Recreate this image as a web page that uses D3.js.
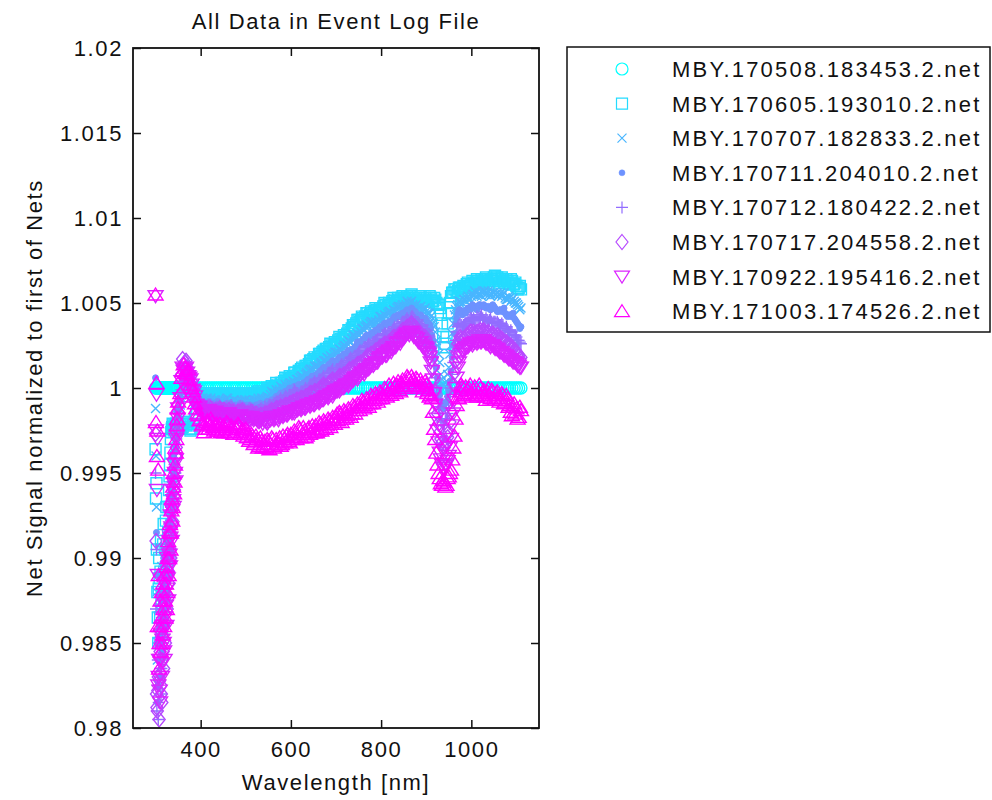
<!DOCTYPE html>
<html><head><meta charset="utf-8">
<script src="https://cdn.jsdelivr.net/npm/d3@7"></script>
<style>
body{margin:0;background:#fff;}
svg text{font-family:"Liberation Sans",Arial,Helvetica,sans-serif;fill:#111;}
</style></head><body>
<svg id="chart" width="992" height="800"></svg>
<script>
// Wavelengths [nm] of the first sampling pass
const wavelengths = [
300,302,304,306,308,310,312,314,316,318,320,322,324,326,328,330,332,334,336,338,340,342,344,346,348,350,
355,360,365,370,375,380,385,390,395,400,
405,410,415,420,425,430,435,440,445,450,
455,460,465,470,475,480,485,490,495,500,
505,510,515,520,525,530,535,540,545,550,
555,560,565,570,575,580,585,590,595,600,
605,610,615,620,625,630,635,640,645,650,
655,660,665,670,675,680,685,690,695,700,
705,710,715,720,725,730,735,740,745,750,
755,760,765,770,775,780,785,790,795,800,
805,810,815,820,825,830,835,840,845,850,
855,860,865,870,875,880,885,890,895,900,
905,910,915,920,925,930,935,940,945,950,
955,960,965,970,975,980,985,990,995,1000,
1005,1010,1015,1020,1025,1030,1035,1040,1045,1050,
1055,1060,1065,1070,1075,1080,1085,1090,1095,1100,
1105,1110];

// Wavelengths [nm] of the interleaved second sampling pass
const wavelengthsB = [
301,303,305,307,309,311,313,315,317,319,321,323,325,327,329,331,333,335,337,339,341,343,345,347,349,
357.5,362.5,367.5,372.5,377.5,382.5,387.5,392.5,397.5,402.5,
407.5,412.5,417.5,422.5,427.5,432.5,437.5,442.5,447.5,452.5,
457.5,462.5,467.5,472.5,477.5,482.5,487.5,492.5,497.5,502.5,
507.5,512.5,517.5,522.5,527.5,532.5,537.5,542.5,547.5,552.5,
557.5,562.5,567.5,572.5,577.5,582.5,587.5,592.5,597.5,602.5,
607.5,612.5,617.5,622.5,627.5,632.5,637.5,642.5,647.5,652.5,
657.5,662.5,667.5,672.5,677.5,682.5,687.5,692.5,697.5,702.5,
707.5,712.5,717.5,722.5,727.5,732.5,737.5,742.5,747.5,752.5,
757.5,762.5,767.5,772.5,777.5,782.5,787.5,792.5,797.5,802.5,
807.5,812.5,817.5,822.5,827.5,832.5,837.5,842.5,847.5,852.5,
857.5,862.5,867.5,872.5,877.5,882.5,887.5,892.5,897.5,902.5,
907.5,912.5,917.5,922.5,927.5,932.5,937.5,942.5,947.5,952.5,
957.5,962.5,967.5,972.5,977.5,982.5,987.5,992.5,997.5,1002.5,
1007.5,1012.5,1017.5,1022.5,1027.5,1032.5,1037.5,1042.5,1047.5,1052.5,
1057.5,1062.5,1067.5,1072.5,1077.5,1082.5,1087.5,1092.5,1097.5,1102.5,
1107.5];

const s1 = [
1,1,1,1,1,1,1,1,1,1,1,1,1,1,1,1,1,1,1,1,1,1,1,1,1,1,
1,1,1,1,1,1,1,1,1,1, 1,1,1,1,1,1,1,1,1,1, 1,1,1,1,1,1,1,1,1,1,
1,1,1,1,1,1,1,1,1,1, 1,1,1,1,1,1,1,1,1,1, 1,1,1,1,1,1,1,1,1,1,
1,1,1,1,1,1,1,1,1,1, 1,1,1,1,1,1,1,1,1,1, 1,1,1,1,1,1,1,1,1,1,
1,1,1,1,1,1,1,1,1,1, 1,1,1,1,1,1,1,1,1,1, 1,1,1,1,1,1,1,1,1,1,
1,1,1,1,1,1,1,1,1,1, 1,1,1,1,1,1,1,1,1,1, 1,1,1,1,1,1,1,1,1,1,
1,1];

const s2 = [
0.9964,0.9944,0.988,0.985,0.99,0.9865,0.991,0.9855,0.989,0.992,0.9875,0.9905,0.993,0.9895,0.9915,0.994,0.9955,0.997,0.9976,0.9979,0.9975,0.9978,0.9976,0.9979,0.9977,0.9978,
0.9978,0.9977,0.998,0.9979,0.9976,0.9976,0.9978,0.9985,0.9991,0.9994,
0.9996,0.9996,0.9994,0.9995,0.9997,0.9996,0.9994,0.9995,0.9997,0.9996,
0.9995,0.9994,0.9997,0.9996,0.9995,0.9994,0.9996,0.9997,0.9995,0.9995,
0.9996,0.9997,0.9995,0.9996,0.9997,0.9998,0.9996,0.9997,0.9998,0.9999,
0.9999,1,1.0001,1.0002,1.0001,1.0003,1.0004,1.0005,1.0005,1.0006,
1.0007,1.0009,1.0008,1.001,1.0012,1.0011,1.0013,1.0014,1.0016,1.0017,
1.0017,1.0018,1.002,1.0021,1.0021,1.0023,1.0024,1.0025,1.0025,1.0026,
1.0028,1.0029,1.0029,1.003,1.0032,1.0034,1.0035,1.0037,1.0038,1.004,
1.004,1.0041,1.0042,1.0044,1.0043,1.0044,1.0045,1.0046,1.0045,1.0046,
1.0048,1.0049,1.0048,1.0049,1.0051,1.0052,1.0051,1.0052,1.0053,1.0053,
1.0052,1.0053,1.0054,1.0053,1.0052,1.0051,1.0053,1.0052,1.0051,1.0052,
1.0052,1.0053,1.0051,1.0052,1.0049,1.0047,1.0038,1.0024,1.003,1.0044,
1.0054,1.0056,1.0058,1.0057,1.0059,1.0058,1.0059,1.0061,1.006,1.0061,
1.0062,1.0062,1.0063,1.0062,1.0063,1.0064,1.0063,1.0062,1.0064,1.0065,
1.0063,1.0064,1.0063,1.0064,1.0062,1.0063,1.0062,1.0063,1.0061,1.006,
1.0059,1.0058];
const s2b = [
0.9935,0.9905,0.9865,0.9882,0.9888,0.9892,0.9875,0.9878,0.9908,0.9892,0.9888,0.9922,0.9908,0.9903,0.993,0.9948,0.9962,0.9974,0.9977,0.9978,0.9976,0.9977,0.9978,0.9977,0.9979,
0.9976,0.998,0.9978,0.9979,0.9975,0.9979,0.9981,0.9988,0.9992,0.9995,
0.9994,0.9997,0.9995,0.9997,0.9995,0.9995,0.9996,0.9997,0.9995,0.9997,
0.9996,0.9995,0.9995,0.9997,0.9994,0.9996,0.9995,0.9997,0.9994,0.9996,
0.9995,0.9996,0.9997,0.9995,0.9998,0.9997,0.9998,0.9996,1,0.9998,
1.0001,0.9999,1.0003,1,1.0003,1.0002,1.0006,1.0004,1.0007,1.0005,
1.0009,1.0007,1.001,1.0011,1.001,1.0013,1.0012,1.0016,1.0015,1.0018,
1.0016,1.002,1.0019,1.0022,1.0023,1.0022,1.0026,1.0024,1.0027,1.0026,
1.003,1.0028,1.0031,1.003,1.0034,1.0033,1.0037,1.0036,1.004,1.0039,
1.0042,1.004,1.0044,1.0042,1.0045,1.0043,1.0047,1.0044,1.0047,1.0046,
1.005,1.0047,1.005,1.0049,1.0053,1.005,1.0053,1.0051,1.0054,1.0052,
1.0054,1.0052,1.0055,1.0051,1.0053,1.005,1.0054,1.0051,1.0053,1.0051,
1.0054,1.0051,1.0053,1.005,1.0049,1.0043,1.003,1.0026,1.0038,1.005,
1.0056,1.0058,1.0056,1.0059,1.0057,1.006,1.0059,1.0062,1.006,1.0063,
1.0061,1.0064,1.0061,1.0064,1.0062,1.0065,1.0061,1.0064,1.0063,1.0066,
1.0065,1.0062,1.0065,1.0062,1.0064,1.0061,1.0064,1.0061,1.0062,1.0058,
1.006];

const s3 = [
0.9988,0.993,0.984,0.987,0.9825,0.988,0.985,0.9895,0.986,0.9885,0.9905,0.987,0.99,0.9915,0.989,0.993,0.991,0.994,0.9925,0.9955,0.994,0.9965,0.996,0.9975,0.998,0.9985,
0.999,0.9997,1,1.0002,0.9999,0.9996,0.9994,0.9992,0.9993,0.9993,
0.9992,0.9992,0.9994,0.9993,0.9992,0.9993,0.9991,0.9993,0.9992,0.9992,
0.9993,0.9994,0.9992,0.9991,0.9993,0.9992,0.999,0.9991,0.9992,0.9993,
0.9992,0.9992,0.9991,0.9993,0.9992,0.9993,0.9994,0.9992,0.9994,0.9994,
0.9996,0.9997,0.9997,0.9998,0.9999,1,1,1.0001,1.0002,1.0003,
1.0004,1.0003,1.0005,1.0006,1.0007,1.0006,1.0009,1.001,1.0011,1.0011,
1.0012,1.0013,1.0014,1.0014,1.0016,1.0018,1.0017,1.0018,1.002,1.0021,
1.0021,1.0022,1.0024,1.0025,1.0026,1.0027,1.0029,1.0031,1.003,1.0031,
1.0033,1.0035,1.0036,1.0036,1.0038,1.0039,1.0038,1.0038,1.004,1.0042,
1.0041,1.0042,1.0044,1.0045,1.0044,1.0045,1.0047,1.0048,1.0048,1.0047,
1.0049,1.005,1.005,1.0049,1.0048,1.0047,1.0047,1.0046,1.0046,1.0045,
1.0044,1.0042,1.0038,1.0033,1.0025,1.0015,1.0005,1,1.0004,1.0012,
1.0025,1.0038,1.0046,1.0049,1.0051,1.005,1.0052,1.0053,1.0052,1.0054,
1.0055,1.0056,1.0055,1.0055,1.0056,1.0057,1.0056,1.0055,1.0055,1.0056,
1.0055,1.0054,1.0056,1.0055,1.0053,1.0052,1.0053,1.0052,1.0051,1.005,
1.0048,1.0047];
const s3b = [
0.996,0.988,0.9855,0.985,0.986,0.9865,0.9875,0.9875,0.9875,0.99,0.9885,0.9882,0.991,0.99,0.9912,0.992,0.9928,0.9932,0.9942,0.9948,0.9955,0.996,0.997,0.9976,0.9984,
0.9996,0.9999,1.0003,1,0.9997,0.9995,0.9992,0.9994,0.9991,0.9994,
0.9991,0.9994,0.9992,0.9994,0.9991,0.9993,0.9992,0.9991,0.9993,0.9992,
0.9994,0.9992,0.9991,0.9993,0.9991,0.9992,0.999,0.9992,0.9993,0.9991,
0.9993,0.9991,0.9993,0.9991,0.9994,0.9992,0.9994,0.9993,0.9995,0.9994,
0.9998,0.9996,0.9999,0.9997,1.0001,0.9999,1.0002,1,1.0003,1.0002,
1.0002,1.0005,1.0004,1.0007,1.0005,1.0008,1.0008,1.0011,1.001,1.0013,
1.0013,1.0012,1.0015,1.0016,1.0016,1.0017,1.0019,1.0018,1.0021,1.002,
1.0023,1.0022,1.0025,1.0024,1.0028,1.0027,1.0031,1.0029,1.0032,1.0031,
1.0035,1.0034,1.0037,1.0036,1.0039,1.0037,1.0039,1.0037,1.0042,1.004,
1.0043,1.0042,1.0045,1.0043,1.0046,1.0045,1.0048,1.0046,1.0049,1.0047,
1.0051,1.0049,1.0051,1.0048,1.0049,1.0046,1.0048,1.0045,1.0047,1.0044,
1.0044,1.004,1.0036,1.0028,1.002,1.0008,1.0002,1.0001,1.0008,1.002,
1.0032,1.0043,1.0048,1.0051,1.0049,1.0052,1.0051,1.0054,1.0052,1.0055,
1.0057,1.0054,1.0056,1.0054,1.0057,1.0055,1.0057,1.0054,1.0056,1.0055,
1.0056,1.0055,1.0054,1.0056,1.0052,1.0054,1.0051,1.0053,1.005,1.0049,
1.0046];

const s4 = [
1.0006,0.9915,0.9815,0.984,0.986,0.983,0.9875,0.9845,0.987,0.99,0.986,0.989,0.991,0.988,0.992,0.9905,0.9935,0.992,0.9945,0.993,0.996,0.995,0.997,0.9965,0.998,0.9988,
0.9995,1.0002,1.0003,1.0004,1.0001,0.9997,0.9994,0.9992,0.9991,0.9991,
0.999,0.999,0.9991,0.9992,0.999,0.999,0.9991,0.9991,0.999,0.9989,
0.999,0.9991,0.9989,0.999,0.9989,0.9989,0.999,0.9991,0.999,0.9989,
0.9989,0.999,0.9989,0.9988,0.999,0.999,0.9989,0.9989,0.9991,0.9992,
0.9992,0.9993,0.9994,0.9995,0.9996,0.9996,0.9997,0.9998,0.9999,0.9999,
1,1.0001,1.0001,1,1.0002,1.0003,1.0004,1.0005,1.0006,1.0007,
1.0007,1.0008,1.001,1.0011,1.0012,1.0012,1.0014,1.0015,1.0015,1.0015,
1.0017,1.0018,1.0019,1.0019,1.0021,1.0022,1.0022,1.0023,1.0025,1.0027,
1.0027,1.0028,1.003,1.0031,1.0031,1.0032,1.0033,1.0034,1.0035,1.0035,
1.0037,1.0038,1.0038,1.0038,1.004,1.0042,1.0042,1.0042,1.0043,1.0044,
1.0045,1.0045,1.0046,1.0046,1.0045,1.0043,1.0042,1.0042,1.0041,1.004,
1.0038,1.0035,1.0028,1.0018,1.0006,0.9996,0.999,0.9988,0.9992,0.9998,
1.001,1.0025,1.0038,1.0044,1.0046,1.0043,1.0045,1.0046,1.0047,1.0048,
1.0047,1.0047,1.0048,1.0049,1.0048,1.0048,1.0047,1.0047,1.0048,1.0048,
1.0046,1.0045,1.0046,1.0046,1.0044,1.0042,1.0043,1.0043,1.0041,1.0039,
1.0037,1.0036];
const s4b = [
0.989,0.985,0.9825,0.985,0.984,0.9855,0.9865,0.9852,0.989,0.9875,0.988,0.9905,0.989,0.9902,0.991,0.9922,0.9925,0.9938,0.9934,0.9948,0.9952,0.9962,0.9964,0.9976,0.9986,
0.9999,1.0004,1.0002,1.0005,0.9999,0.9996,0.9992,0.9993,0.999,0.9992,
0.9989,0.9991,0.9992,0.999,0.9991,0.9989,0.9992,0.999,0.9989,0.999,
0.9991,0.9989,0.999,0.9988,0.999,0.9989,0.9991,0.999,0.9989,0.999,
0.999,0.9988,0.9989,0.999,0.9989,0.9991,0.9988,0.999,0.9992,0.9991,
0.9993,0.9992,0.9995,0.9994,0.9997,0.9995,0.9998,0.9997,1,0.9998,
1.0001,1,1.0002,1.0001,1.0003,1.0002,1.0005,1.0004,1.0007,1.0006,
1.0008,1.0009,1.001,1.0012,1.0011,1.0013,1.0014,1.0016,1.0014,1.0016,
1.0018,1.0017,1.002,1.0019,1.0022,1.0021,1.0023,1.0024,1.0027,1.0026,
1.0028,1.0029,1.0031,1.003,1.0032,1.0031,1.0034,1.0033,1.0036,1.0035,
1.0038,1.0037,1.0039,1.0039,1.0041,1.0041,1.0043,1.0042,1.0044,1.0043,
1.0046,1.0044,1.0047,1.0045,1.0044,1.0042,1.0043,1.0041,1.0041,1.0038,
1.0037,1.0031,1.0024,1.0012,1,0.9992,0.9988,0.9991,0.9995,1.0004,
1.0018,1.0032,1.0041,1.0046,1.0044,1.0045,1.0044,1.0047,1.0046,1.0049,
1.0048,1.0046,1.0049,1.0048,1.0049,1.0047,1.0048,1.0046,1.0049,1.0047,
1.0045,1.0046,1.0045,1.0047,1.0043,1.0043,1.0042,1.0044,1.004,1.0038,
1.0035];

const s5 = [
0.995,0.9905,0.9825,0.9805,0.985,0.9835,0.982,0.9865,0.984,0.988,0.9855,0.9895,0.9875,0.9905,0.989,0.992,0.99,0.993,0.9915,0.9945,0.9935,0.9955,0.995,0.997,0.9975,0.9985,
0.9992,1.0004,1.0005,1.0006,1.0003,1,0.9996,0.9991,0.999,0.9989,
0.9988,0.9988,0.9989,0.999,0.9988,0.9988,0.9989,0.9988,0.9987,0.9987,
0.9988,0.9988,0.9989,0.9989,0.9988,0.9987,0.9988,0.9988,0.9987,0.9987,
0.9987,0.9988,0.9987,0.9986,0.9986,0.9987,0.9988,0.9987,0.9988,0.9989,
0.999,0.999,0.9991,0.9992,0.9993,0.9993,0.9994,0.9995,0.9995,0.9995,
0.9997,0.9998,0.9997,0.9996,0.9998,0.9999,0.9999,1,1.0002,1.0003,
1.0003,1.0003,1.0005,1.0006,1.0006,1.0007,1.0009,1.001,1.0009,1.0009,
1.0011,1.0013,1.0013,1.0013,1.0015,1.0017,1.0017,1.0017,1.0019,1.0021,
1.0022,1.0022,1.0024,1.0025,1.0025,1.0026,1.0027,1.0028,1.0028,1.0029,
1.0031,1.0032,1.0032,1.0032,1.0034,1.0036,1.0036,1.0036,1.0038,1.0039,
1.004,1.004,1.0041,1.0042,1.004,1.0038,1.0037,1.0037,1.0035,1.0034,
1.0031,1.0027,1.0018,1.0006,0.9994,0.9985,0.998,0.9978,0.9982,0.9988,
1,1.0015,1.0028,1.0036,1.0038,1.0036,1.0037,1.0038,1.004,1.0041,
1.0041,1.004,1.0041,1.0042,1.0041,1.004,1.004,1.004,1.0039,1.0039,
1.0038,1.0038,1.0037,1.0037,1.0035,1.0034,1.0033,1.0033,1.0031,1.003,
1.0028,1.0026];
const s5b = [
0.987,0.981,0.984,0.9815,0.983,0.985,0.9835,0.986,0.985,0.9865,0.988,0.987,0.9895,0.9882,0.9908,0.9905,0.9918,0.9922,0.9932,0.9938,0.9948,0.995,0.9962,0.9972,0.9982,
0.9999,1.0006,1.0004,1.0007,1.0001,0.9997,0.9995,0.999,0.9991,0.9988,
0.9987,0.9989,0.999,0.9988,0.9989,0.9987,0.9989,0.9987,0.9988,0.9986,
0.9989,0.9987,0.999,0.9988,0.9987,0.9988,0.9989,0.9987,0.9988,0.9986,
0.9988,0.9986,0.9987,0.9985,0.9987,0.9988,0.9987,0.9989,0.9988,0.999,
0.9989,0.9991,0.9992,0.9992,0.9994,0.9993,0.9995,0.9994,0.9996,0.9995,
0.9999,0.9997,0.9996,0.9998,0.9998,1,0.9999,1.0002,1.0002,1.0004,
1.0002,1.0005,1.0005,1.0007,1.0006,1.0009,1.0009,1.0011,1.0008,1.0011,
1.0012,1.0014,1.0012,1.0015,1.0016,1.0018,1.0016,1.0019,1.002,1.0022,
1.0021,1.0024,1.0024,1.0026,1.0025,1.0027,1.0028,1.0029,1.0027,1.0031,
1.0032,1.0031,1.0033,1.0033,1.0035,1.0035,1.0037,1.0036,1.0039,1.0039,
1.0041,1.0039,1.0042,1.0041,1.0039,1.0038,1.0036,1.0037,1.0034,1.0033,
1.003,1.0022,1.0013,1,0.9989,0.9982,0.9978,0.9981,0.9985,0.9995,
1.0008,1.0022,1.0033,1.0037,1.0037,1.0037,1.0038,1.0039,1.0041,1.004,
1.004,1.0042,1.0041,1.0043,1.004,1.0041,1.0039,1.0041,1.0038,1.0039,
1.0039,1.0037,1.0038,1.0035,1.0036,1.0033,1.0034,1.0031,1.0031,1.0028,
1.0027];

const s6 = [
0.9973,0.982,0.981,0.983,0.9805,0.9845,0.9825,0.9815,0.986,0.9835,0.988,0.985,0.989,0.987,0.9905,0.9885,0.9915,0.99,0.993,0.992,0.9945,0.994,0.996,0.9965,0.998,0.999,
0.9996,1.0017,1.0015,1.0012,1.0008,1.0004,0.9999,0.9993,0.9989,0.9987,
0.9988,0.9988,0.9987,0.9986,0.9987,0.9986,0.9986,0.9987,0.9987,0.9987,
0.9986,0.9985,0.9986,0.9986,0.9985,0.9985,0.9986,0.9986,0.9985,0.9984,
0.9985,0.9985,0.9984,0.9984,0.9983,0.9983,0.9984,0.9984,0.9985,0.9985,
0.9986,0.9986,0.9987,0.9988,0.9988,0.9988,0.9989,0.999,0.999,0.9991,
0.9992,0.9992,0.9993,0.9993,0.9994,0.9994,0.9995,0.9996,0.9997,0.9997,
0.9998,0.9998,1,1.0001,1.0001,1.0001,1.0003,1.0004,1.0004,1.0004,
1.0006,1.0007,1.0007,1.0007,1.0009,1.0011,1.0011,1.0011,1.0013,1.0014,
1.0015,1.0015,1.0017,1.0019,1.0019,1.002,1.0021,1.0022,1.0023,1.0024,
1.0025,1.0026,1.0026,1.0027,1.0029,1.003,1.003,1.0031,1.0033,1.0034,
1.0035,1.0036,1.0037,1.0037,1.0036,1.0034,1.0032,1.0031,1.003,1.0029,
1.0026,1.0021,1.0012,0.9998,0.9985,0.9974,0.9968,0.9965,0.9968,0.9974,
0.9986,1.0002,1.0016,1.0026,1.003,1.0028,1.0029,1.0031,1.0032,1.0033,
1.0033,1.0032,1.0033,1.0034,1.0033,1.0033,1.0032,1.0032,1.0031,1.0031,
1.003,1.003,1.0029,1.0028,1.0027,1.0026,1.0025,1.0024,1.0022,1.0021,
1.0019,1.0018];
const s6b = [
0.991,0.9812,0.9822,0.9818,0.9828,0.9832,0.982,0.984,0.9845,0.986,0.9862,0.9872,0.9878,0.989,0.9892,0.9902,0.9905,0.9918,0.9922,0.9934,0.994,0.9952,0.996,0.9974,0.9986,
1.0008,1.0014,1.0016,1.001,1.0007,1.0001,0.9995,0.9992,0.9988,0.9989,
0.9989,0.9987,0.9986,0.9988,0.9985,0.9987,0.9986,0.9988,0.9986,0.9987,
0.9985,0.9987,0.9985,0.9986,0.9984,0.9986,0.9985,0.9987,0.9984,0.9985,
0.9984,0.9986,0.9983,0.9985,0.9982,0.9984,0.9983,0.9985,0.9984,0.9986,
0.9987,0.9985,0.9988,0.9987,0.9989,0.9988,0.999,0.9989,0.9991,0.9991,
0.9991,0.9993,0.9992,0.9994,0.9993,0.9995,0.9995,0.9997,0.9996,0.9998,
0.9997,0.9999,1,1.0002,1,1.0002,1.0003,1.0005,1.0003,1.0005,
1.0007,1.0006,1.0008,1.0008,1.001,1.001,1.0012,1.0011,1.0014,1.0014,
1.0014,1.0016,1.0018,1.0018,1.002,1.002,1.0022,1.0021,1.0024,1.0024,
1.0026,1.0025,1.0027,1.0027,1.003,1.0029,1.0031,1.0031,1.0034,1.0033,
1.0036,1.0035,1.0038,1.0036,1.0035,1.0033,1.0032,1.003,1.003,1.0027,
1.0024,1.0017,1.0005,0.9991,0.9979,0.997,0.9966,0.9967,0.9971,0.998,
0.9994,1.0009,1.0021,1.0028,1.0029,1.0029,1.003,1.0031,1.0033,1.0032,
1.0032,1.0033,1.0033,1.0033,1.0034,1.0032,1.0033,1.0031,1.0032,1.003,
1.0031,1.0029,1.0029,1.0027,1.0027,1.0025,1.0025,1.0023,1.0022,1.002,
1.0017];

const s7 = [
1.0054,0.9996,0.997,0.9825,0.984,0.9815,0.9855,0.983,0.9875,0.985,0.984,0.9885,0.986,0.99,0.9875,0.991,0.9895,0.9925,0.991,0.994,0.993,0.9955,0.9945,0.997,0.9975,0.9988,
0.9994,1.0012,1.0011,1.0009,1.0006,1.0002,0.9998,0.999,0.9988,0.9987,
0.9986,0.9985,0.9986,0.9986,0.9985,0.9984,0.9985,0.9984,0.9983,0.9983,
0.9984,0.9985,0.9984,0.9983,0.9983,0.9984,0.9983,0.9982,0.9982,0.9983,
0.9982,0.9981,0.9982,0.9982,0.9981,0.998,0.9981,0.9981,0.998,0.998,
0.9981,0.9982,0.9982,0.9982,0.9983,0.9984,0.9984,0.9984,0.9985,0.9986,
0.9986,0.9986,0.9987,0.9988,0.9988,0.9988,0.9989,0.999,0.999,0.999,
0.9991,0.9992,0.9992,0.9993,0.9994,0.9995,0.9995,0.9996,0.9997,0.9998,
0.9999,0.9999,1,1.0001,1.0002,1.0002,1.0004,1.0005,1.0006,1.0006,
1.0008,1.0009,1.001,1.0011,1.0012,1.0014,1.0014,1.0015,1.0017,1.0018,
1.0019,1.0019,1.0021,1.0022,1.0023,1.0024,1.0026,1.0027,1.0028,1.0029,
1.0031,1.0032,1.0033,1.0032,1.003,1.0029,1.0027,1.0025,1.0024,1.0023,
1.002,1.0015,1.0005,0.999,0.9975,0.9962,0.9955,0.9952,0.9955,0.996,
0.997,0.9985,1,1.0012,1.0018,1.0022,1.0023,1.0024,1.0025,1.0026,
1.0026,1.0027,1.0027,1.0027,1.0028,1.0027,1.0026,1.0025,1.0025,1.0024,
1.0023,1.0022,1.0021,1.002,1.0019,1.0018,1.0017,1.0016,1.0015,1.0014,
1.0013,1.0012];
const s7b = [
0.9975,0.994,0.989,0.983,0.9822,0.984,0.9838,0.9852,0.986,0.9845,0.9865,0.9872,0.9882,0.9888,0.9895,0.9902,0.9912,0.9918,0.9928,0.9934,0.9944,0.995,0.9958,0.9972,0.9982,
1.0004,1.001,1.0012,1.0007,1.0005,0.9999,0.9995,0.9988,0.9989,0.9985,
0.9987,0.9985,0.9987,0.9985,0.9984,0.9986,0.9983,0.9985,0.9982,0.9984,
0.9983,0.9985,0.9982,0.9984,0.9983,0.9982,0.9984,0.9981,0.9983,0.9982,
0.9981,0.9983,0.9981,0.9982,0.998,0.9982,0.9979,0.9981,0.9979,0.9981,
0.9983,0.9981,0.9983,0.9981,0.9984,0.9983,0.9985,0.9984,0.9986,0.9985,
0.9985,0.9987,0.9988,0.9987,0.9989,0.9988,0.999,0.9989,0.9991,0.999,
0.9992,0.9991,0.9993,0.9993,0.9995,0.9994,0.9996,0.9995,0.9998,0.9998,
0.9998,1,1,1.0002,1.0001,1.0003,1.0004,1.0006,1.0005,1.0007,
1.0009,1.0008,1.0011,1.0011,1.0013,1.0013,1.0015,1.0015,1.0018,1.0018,
1.002,1.0019,1.0022,1.0021,1.0024,1.0024,1.0027,1.0026,1.0029,1.003,
1.0032,1.0031,1.0033,1.003,1.0029,1.0027,1.0027,1.0024,1.0024,1.0021,
1.0018,1.001,0.9997,0.9982,0.9968,0.9958,0.9953,0.9954,0.9957,0.9965,
0.9978,0.9993,1.0006,1.0015,1.002,1.0022,1.0024,1.0024,1.0026,1.0025,
1.0027,1.0026,1.0028,1.0027,1.0028,1.0026,1.0026,1.0024,1.0025,1.0023,
1.0023,1.0021,1.0021,1.0019,1.0019,1.0017,1.0017,1.0015,1.0015,1.0013,
1.0012];

const s8 = [
1.0055,1.0003,0.9975,0.9952,0.9835,0.986,0.9845,0.988,0.9855,0.987,0.989,0.9865,0.9895,0.988,0.991,0.99,0.992,0.9915,0.9935,0.993,0.995,0.9945,0.9965,0.997,0.9982,0.9992,
0.9997,1.001,1.0012,1.0008,1.0005,1,0.9995,0.9988,0.9984,0.9982,
0.9979,0.9976,0.9981,0.9978,0.998,0.9975,0.9979,0.9977,0.9974,0.9978,
0.9976,0.9979,0.9974,0.9977,0.9973,0.9976,0.9978,0.9974,0.9972,0.9976,
0.9973,0.997,0.9972,0.9968,0.997,0.9966,0.9969,0.9967,0.9965,0.9969,
0.9967,0.997,0.9966,0.9968,0.9971,0.9967,0.997,0.9972,0.9969,0.9973,
0.9971,0.9974,0.9972,0.9976,0.9973,0.9975,0.9972,0.9977,0.9974,0.9976,
0.9978,0.9975,0.9979,0.9976,0.998,0.9978,0.9981,0.9979,0.9982,0.9983,
0.9981,0.9985,0.9982,0.9986,0.9984,0.9987,0.9985,0.9989,0.9987,0.999,
0.9989,0.9992,0.999,0.9993,0.9991,0.9995,0.9993,0.9996,0.9994,0.9997,
0.9996,0.9999,0.9997,1,0.9998,1.0001,1.0002,0.9999,1.0003,1.0001,
1.0004,1.0006,1.0003,1.0005,1.0002,1.0005,1.0001,1.0003,1,1.0002,
0.9999,0.9996,0.9986,0.997,0.9955,0.9947,0.9943,0.9945,0.9943,0.9948,
0.9952,0.9965,0.9982,0.9995,0.9998,1.0001,0.9997,0.9999,1,0.9997,
0.9999,0.9996,0.9998,1,0.9997,0.9995,0.9998,0.9996,0.9999,0.9994,
0.9997,0.9995,0.9993,0.9996,0.9992,0.9994,0.999,0.9984,0.9991,0.9988,
0.9983,0.9987];
const s8b = [
0.998,0.996,0.986,0.989,0.985,0.9875,0.9865,0.985,0.9885,0.986,0.9875,0.9885,0.987,0.99,0.989,0.9915,0.9905,0.9928,0.9922,0.9942,0.9938,0.9955,0.9962,0.9978,0.9988,
1.0006,1.0014,1.0009,1.0011,1.0002,0.9998,0.9991,0.9985,0.9981,0.9978,
0.9974,0.998,0.9976,0.9982,0.9977,0.9978,0.9975,0.9979,0.9977,0.9974,
0.998,0.9975,0.9978,0.9973,0.9977,0.9979,0.9973,0.9976,0.9975,0.9971,
0.9969,0.9973,0.9967,0.9972,0.9965,0.9971,0.9965,0.9969,0.997,0.9964,
0.9971,0.9965,0.997,0.9967,0.9966,0.9972,0.9968,0.9973,0.9968,0.997,
0.9975,0.997,0.9977,0.9971,0.9977,0.9971,0.9976,0.9973,0.9978,0.9974,
0.9974,0.998,0.9975,0.9981,0.9976,0.9982,0.9977,0.9983,0.9979,0.9985,
0.9986,0.998,0.9987,0.9982,0.9988,0.9983,0.999,0.9985,0.9991,0.9987,
0.9993,0.9988,0.9994,0.9989,0.9996,0.9991,0.9997,0.9992,0.9998,0.9994,
1,0.9995,1.0002,0.9996,1.0003,0.9997,1.0004,0.9998,1.0005,1,
1.0007,1.0002,1.0007,1.0001,1.0006,1,1.0005,0.9998,1.0004,0.9997,
0.9995,0.9994,0.9976,0.9962,0.995,0.9944,0.9946,0.9942,0.9947,0.995,
0.9958,0.9972,0.999,0.9994,1.0002,0.9996,1.0001,0.9996,1.0002,0.9995,
1.0001,0.9995,1.0002,0.9996,0.9999,0.9993,1,0.9994,0.9998,0.9993,
0.9998,0.9992,0.9997,0.9991,0.9996,0.9989,0.9986,0.9989,0.9985,0.9982,
0.9989];

const seriesNames = [
"MBY.170508.183453.2.net","MBY.170605.193010.2.net","MBY.170707.182833.2.net","MBY.170711.204010.2.net",
"MBY.170712.180422.2.net","MBY.170717.204558.2.net","MBY.170922.195416.2.net","MBY.171003.174526.2.net"];
const seriesValues = [s1,s2,s3,s4,s5,s6,s7,s8];
const seriesValuesB = [null,s2b,s3b,s4b,s5b,s6b,s7b,s8b];
const seriesColors = ["#00FFFF","#24DBFF","#49B6FF","#6D92FF","#926DFF","#B649FF","#DB24FF","#FF00FF"];
const seriesMarkers = ["circle","square","x","dot","plus","diamond","triangleDown","triangleUp"];

const xTicks = [400,600,800,1000];
const xTickLabels = ["400","600","800","1000"];
const yTicks = [0.98,0.985,0.99,0.995,1,1.005,1.01,1.015,1.02];
const yTickLabels = ["0.98","0.985","0.99","0.995","1","1.005","1.01","1.015","1.02"];
const titleText = "All Data in Event Log File";
const xLabelText = "Wavelength [nm]";
const yLabelText = "Net Signal normalized to first of Nets";

// ---- layout ----
const L = 133, R = 539, T = 48, B = 728;
const svg = d3.select("#chart");
const x = d3.scaleLinear().domain([250,1150]).range([L,R]);
const y = d3.scaleLinear().domain([0.98,1.02]).range([B,T]);

function markerPath(type){
  switch(type){
    case "circle": return "M6,0A6,6 0 1,1 -6,0A6,6 0 1,1 6,0Z";
    case "square": return "M-5.5,-5.5H5.5V5.5H-5.5Z";
    case "x": return "M-4.5,-4.5L4.5,4.5M-4.5,4.5L4.5,-4.5";
    case "dot": return "M3,0A3,3 0 1,1 -3,0A3,3 0 1,1 3,0Z";
    case "plus": return "M-6,0H6M0,-6V6";
    case "diamond": return "M0,-7.5L6,0L0,7.5L-6,0Z";
    case "triangleDown": return "M-7.5,-5.5H7.5L0,6.5Z";
    case "triangleUp": return "M0,-6.5L7.5,5.5H-7.5Z";
  }
}

const fontFam = '"Liberation Sans",Arial,Helvetica,sans-serif';

// data markers
const plot = svg.append("g");
seriesValues.forEach((vals,i)=>{
  let pts = wavelengths.map((w,j)=>({w, v: vals[j]}));
  const vb = seriesValuesB[i];
  if (vb) pts = pts.concat(wavelengthsB.map((w,j)=>({w, v: vb[j]})));
  pts = pts.filter(d=>d.v!==undefined).sort((a,b)=>a.w-b.w);
  const g = plot.append("g");
  g.selectAll("path").data(pts).join("path")
    .attr("d", markerPath(seriesMarkers[i]))
    .attr("transform", d=>`translate(${x(d.w).toFixed(2)},${y(d.v).toFixed(2)})`)
    .attr("fill", seriesMarkers[i]==="dot" ? seriesColors[i] : "none")
    .attr("stroke", seriesColors[i])
    .attr("stroke-width", seriesMarkers[i]==="dot" ? 1 : 1.4);
});

// axes
function styleAxis(g){
  g.select(".domain").remove();
  g.selectAll(".tick line").attr("stroke","#111").attr("stroke-width",1.5);
  g.selectAll("text").attr("font-family",fontFam).attr("font-size",22)
    .attr("letter-spacing","1.6px").attr("fill","#111");
}
svg.append("g").attr("transform",`translate(0,${B})`)
  .call(d3.axisBottom(x).tickValues(xTicks).tickFormat((d,i)=>xTickLabels[i]).tickSizeInner(-8).tickSizeOuter(0).tickPadding(13))
  .call(styleAxis);
svg.append("g").attr("transform",`translate(0,${T})`)
  .call(d3.axisTop(x).tickValues(xTicks).tickFormat("").tickSizeInner(-8).tickSizeOuter(0))
  .call(styleAxis);
svg.append("g").attr("transform",`translate(${L},0)`)
  .call(d3.axisLeft(y).tickValues(yTicks).tickFormat((d,i)=>yTickLabels[i]).tickSizeInner(-8).tickSizeOuter(0).tickPadding(10))
  .call(styleAxis);
svg.append("g").attr("transform",`translate(${R},0)`)
  .call(d3.axisRight(y).tickValues(yTicks).tickFormat("").tickSizeInner(-8).tickSizeOuter(0))
  .call(styleAxis);

// box
svg.append("rect").attr("x",L).attr("y",T).attr("width",R-L).attr("height",B-T)
  .attr("fill","none").attr("stroke","#111").attr("stroke-width",1.8);

// title and labels
svg.append("text").attr("x",(L+R)/2).attr("y",29).attr("text-anchor","middle")
  .attr("font-size",22).attr("letter-spacing","1.6px").text(titleText);
svg.append("text").attr("x",(L+R)/2).attr("y",790).attr("text-anchor","middle")
  .attr("font-size",22).attr("letter-spacing","1.6px").text(xLabelText);
svg.append("text").attr("transform",`translate(42,${(T+B)/2}) rotate(-90)`).attr("text-anchor","middle")
  .attr("font-size",22).attr("letter-spacing","1.6px").text(yLabelText);

// legend
const lg = svg.append("g");
lg.append("rect").attr("x",567).attr("y",47).attr("width",423).attr("height",285)
  .attr("fill","#fff").attr("stroke","#111").attr("stroke-width",1.5);
seriesNames.forEach((name,i)=>{
  const cy = 69 + i*34.6;
  lg.append("path").attr("d", markerPath(seriesMarkers[i]))
    .attr("transform",`translate(622,${cy})`)
    .attr("fill", seriesMarkers[i]==="dot" ? seriesColors[i] : "none")
    .attr("stroke", seriesColors[i]).attr("stroke-width", seriesMarkers[i]==="dot"?0.5:1.2);
  lg.append("text").attr("x",672).attr("y",cy+8).attr("font-size",22)
    .attr("letter-spacing","2.2px").text(name);
});
</script>
</body></html>
